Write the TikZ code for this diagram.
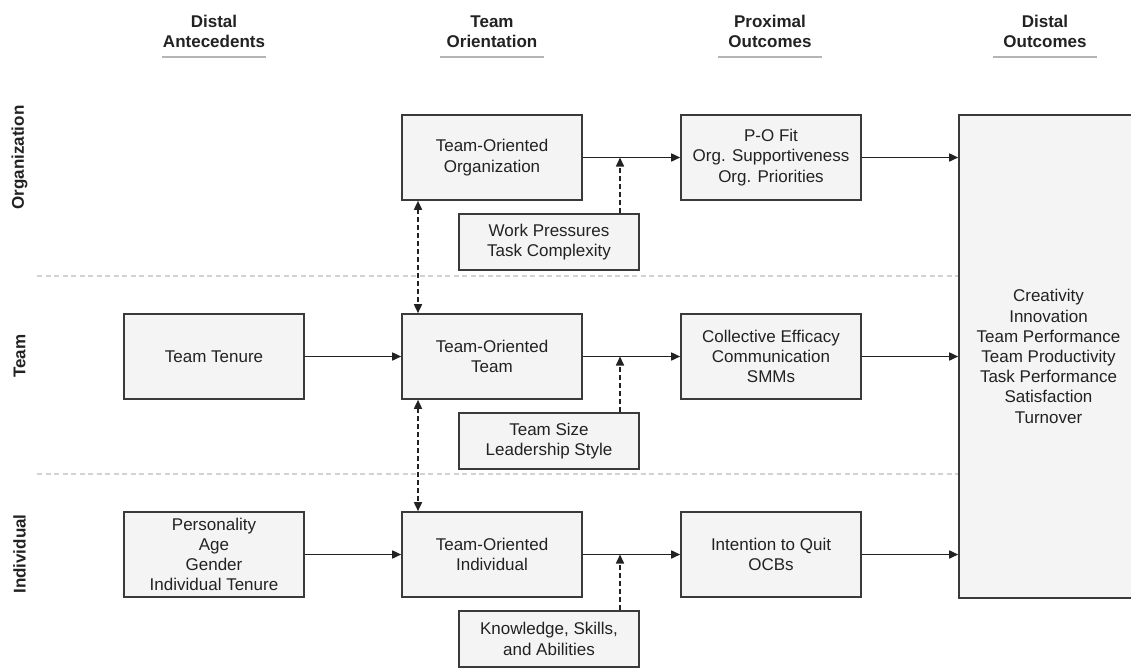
\documentclass[tikz,border=0pt]{standalone}
\usepackage{fontspec}
\setmainfont{Liberation Sans}
\usetikzlibrary{arrows.meta,calc}
\definecolor{boxfill}{HTML}{F4F4F4}
\definecolor{boxline}{HTML}{3A3A3A}
\definecolor{txt}{HTML}{222222}
\definecolor{sep}{HTML}{D2D2D2}
\definecolor{uline}{HTML}{B4B4B4}
\begin{document}
\begin{tikzpicture}[x=1pt,y=-1pt,
  box/.style={draw=boxline, fill=boxfill, line width=1.6pt, minimum width=180pt,
    minimum height=85pt, inner sep=0pt, align=center, text=txt,
    font=\fontsize{17}{20.2}\selectfont},
  smallbox/.style={box, minimum height=56pt},
  header/.style={align=center, text=txt, font=\fontsize{17}{20}\selectfont\bfseries, anchor=base},
  rowlabel/.style={rotate=90, text=txt, font=\fontsize{17}{20}\selectfont\bfseries},
  conn/.style={draw=txt, line width=1.6pt, -{Triangle[length=9pt,width=8pt]}},
  modconn/.style={conn, dash pattern=on 5pt off 3pt},
  bothconn/.style={modconn, {Triangle[length=9pt,width=8pt]}-{Triangle[length=9pt,width=8pt]}},
  sepline/.style={draw=sep, line width=1.1pt, dash pattern=on 5pt off 3.5pt},
  hline/.style={draw=uline, line width=1.1pt}
]
\useasboundingbox (0,0) rectangle (1131,667);
\clip (0,0) rectangle (1131,667);

% headers
\node[header] (h1) at (214,47) {Distal\\Antecedents};
\node[header] (h2) at (492,47) {Team\\Orientation};
\node[header] (h3) at (770,47) {Proximal\\Outcomes};
\node[header] (h4) at (1045,47) {Distal\\Outcomes};
\foreach \h in {h1,h2,h3,h4}{
  \draw[hline] ($(\h.base)+(-52,10)$) -- ($(\h.base)+(52,10)$);
}

% row labels
\node[rowlabel] (r1) at (19.5,157.5) {Organization};
\node[rowlabel] (r2) at (19.5,356) {Team};
\node[rowlabel] (r3) at (19.5,554) {Individual};

% separators
\coordinate (s1) at (37,276);
\coordinate (s2) at (37,474);

% boxes
\node[box] (dout) at (1048.5,356.5) [minimum width=179pt, minimum height=483pt]
  {Creativity\\Innovation\\Team Performance\\Team Productivity\\Task Performance\\Satisfaction\\Turnover};
\draw[sepline] (s1) -- (s1 -| dout.west);
\draw[sepline] (s2) -- (s2 -| dout.west);

\node[box] (toorg) at (492,157.5) {Team-Oriented\\Organization};
\node[box] (pofit) at (771,157.5) {P-O Fit\\Org. Supportiveness\\Org. Priorities};
\node[smallbox] (wp) at (549,242) {Work Pressures\\Task Complexity};

\node[box] (tenure) at (214,356.5) {Team Tenure};
\node[box] (toteam) at (492,356.5) {Team-Oriented\\Team};
\node[box] (ce) at (771,356.5) {Collective Efficacy\\Communication\\SMMs};
\node[smallbox] (ts) at (549,441) {Team Size\\Leadership Style};

\node[box] (pers) at (214,554.5) {Personality\\Age\\Gender\\Individual Tenure};
\node[box] (toind) at (492,554.5) {Team-Oriented\\Individual};
\node[box] (iq) at (771,554.5) {Intention to Quit\\OCBs};
\node[smallbox] (ksa) at (549,639) {Knowledge, Skills,\\and Abilities};

% main arrows
\draw[conn] (toorg.east) -- (pofit.west);
\draw[conn] (pofit.east) -- (pofit.east -| dout.west);
\draw[conn] (tenure.east) -- (toteam.west);
\draw[conn] (toteam.east) -- (ce.west);
\draw[conn] (ce.east) -- (ce.east -| dout.west);
\draw[conn] (pers.east) -- (toind.west);
\draw[conn] (toind.east) -- (iq.west);
\draw[conn] (iq.east) -- (iq.east -| dout.west);

% moderators
\coordinate (m1) at (620,157.5);
\coordinate (m2) at (620,356.5);
\coordinate (m3) at (620,554.5);
\draw[modconn] (wp.north -| m1) -- (m1);
\draw[modconn] (ts.north -| m2) -- (m2);
\draw[modconn] (ksa.north -| m3) -- (m3);

% cross-level
\coordinate (v) at (418,0);
\draw[bothconn] (toorg.south -| v) -- (toteam.north -| v);
\draw[bothconn] (toteam.south -| v) -- (toind.north -| v);
\end{tikzpicture}
\end{document}
